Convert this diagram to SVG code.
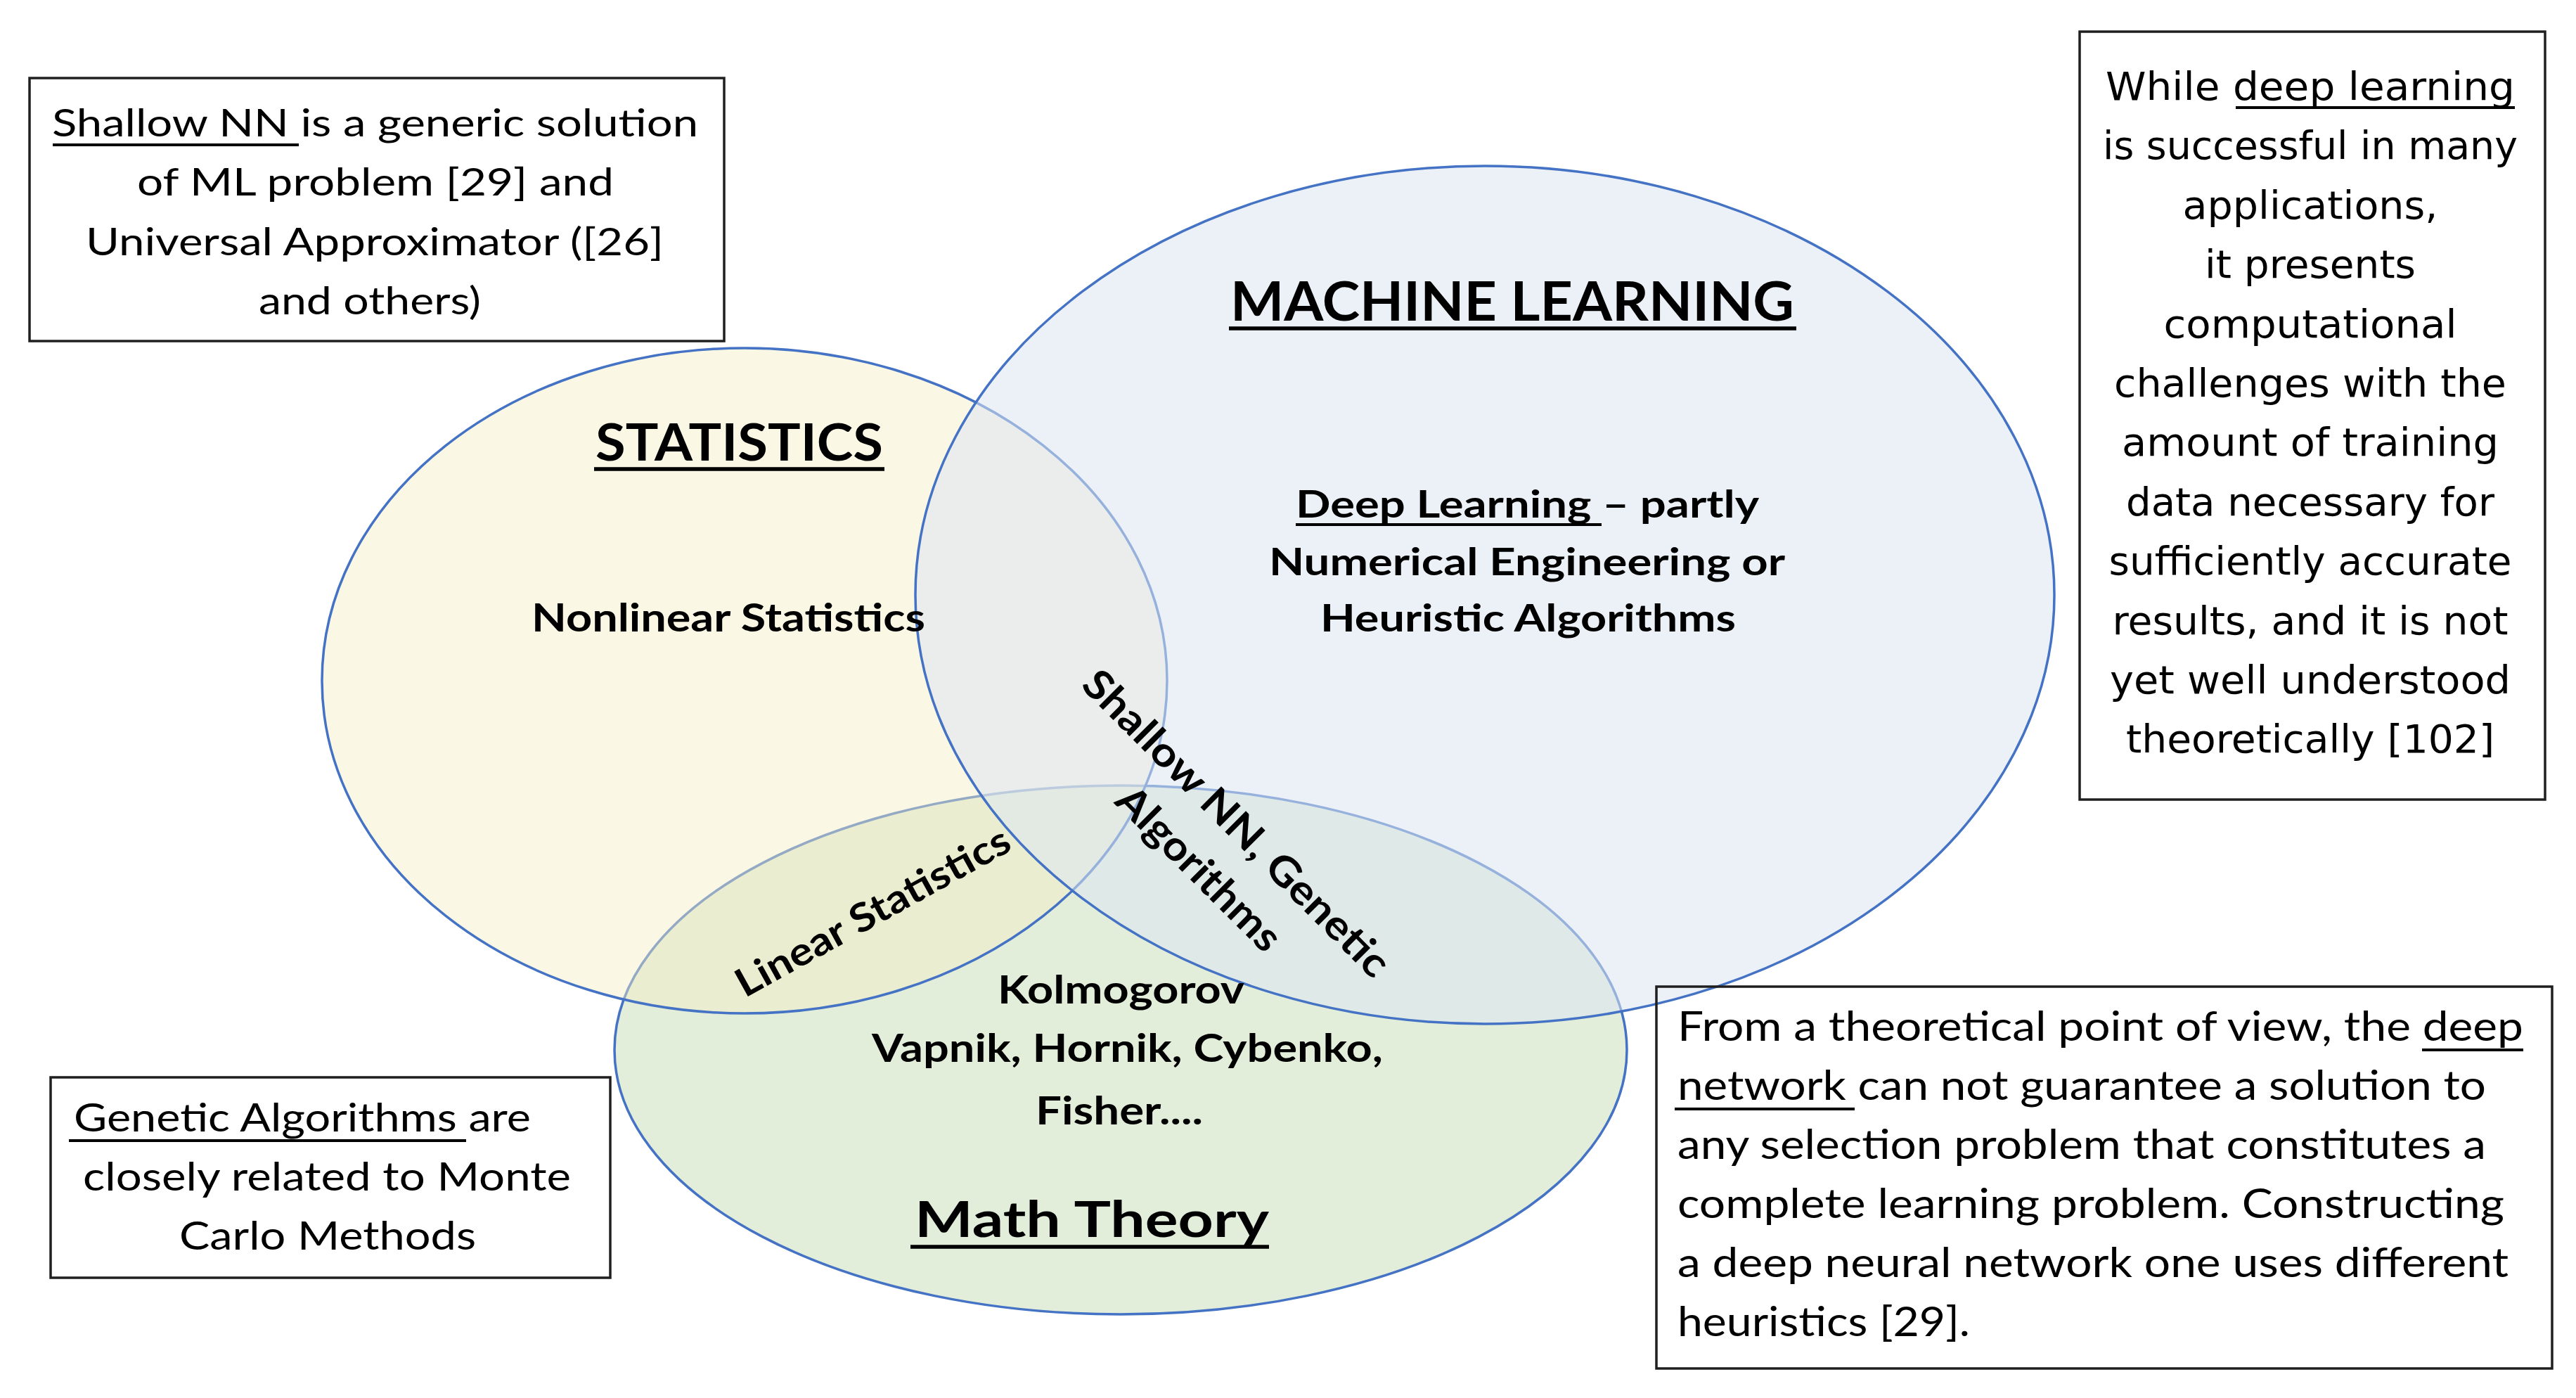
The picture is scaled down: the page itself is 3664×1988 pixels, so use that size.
<svg xmlns="http://www.w3.org/2000/svg" width="3664" height="1988" viewBox="0 0 3664 1988">
<style>
.t{font-family:Lato,"Liberation Sans",Arial,sans-serif;fill:#000}
.b{font-weight:700}
.v{font-family:"DejaVu Sans",Verdana,sans-serif;fill:#000}
.box{fill:none;stroke:#1f1f1f;stroke-width:3.5}
.ul{stroke:#000;stroke-width:4}
.ulb{stroke:#000;stroke-width:5.5}
.ell{stroke:#4472C4;stroke-width:3.5}
</style>
<rect width="3664" height="1988" fill="#fff"/>

<g id="math-theory">
<ellipse class="ell" cx="1594" cy="1493" rx="720" ry="376" fill="#C5DBB5" fill-opacity="0.5"/>
<text class="t b" x="1301" y="1759" font-size="71" textLength="504" lengthAdjust="spacingAndGlyphs">Math Theory</text>
<line class="ulb" x1="1295" y1="1773" x2="1805" y2="1773"/>
</g>

<g id="statistics">
<ellipse class="ell" cx="1059" cy="968" rx="601" ry="473" fill="#F4EEC4" fill-opacity="0.46"/>
<text class="t b" x="847" y="655" font-size="72" textLength="409" lengthAdjust="spacingAndGlyphs">STATISTICS</text>
<line class="ulb" x1="845" y1="667" x2="1258" y2="667"/>
</g>

<g id="machine-learning">
<ellipse class="ell" cx="2112" cy="846" rx="810" ry="610" fill="#DDE6F3" fill-opacity="0.55"/>
<text class="t b" x="1750" y="456" font-size="77" textLength="802" lengthAdjust="spacingAndGlyphs">MACHINE LEARNING</text>
<line class="ulb" x1="1748" y1="467" x2="2555" y2="467"/>
</g>

<g id="label-nonlinear-statistics">
<text class="t b" x="756" y="898" font-size="56" textLength="560" lengthAdjust="spacingAndGlyphs">Nonlinear Statistics</text>
</g>

<g id="label-deep-learning">
<text class="t b" x="1843" y="736" font-size="53" textLength="659" lengthAdjust="spacingAndGlyphs">Deep Learning – partly</text>
<line class="ul" x1="1843" y1="746" x2="2278" y2="746"/>
<text class="t b" x="1805" y="818" font-size="53" textLength="734" lengthAdjust="spacingAndGlyphs">Numerical Engineering or</text>
<text class="t b" x="1878" y="898" font-size="53" textLength="591" lengthAdjust="spacingAndGlyphs">Heuristic Algorithms</text>
</g>

<g id="label-math-names">
<text class="t b" x="1419" y="1427" font-size="56" textLength="351" lengthAdjust="spacingAndGlyphs">Kolmogorov</text>
<text class="t b" x="1240" y="1510" font-size="56" textLength="727" lengthAdjust="spacingAndGlyphs">Vapnik, Hornik, Cybenko,</text>
<text class="t b" x="1473" y="1599" font-size="56" textLength="238" lengthAdjust="spacingAndGlyphs">Fisher....</text>
</g>

<g id="label-linear-statistics" transform="translate(1241,1296) rotate(-29)">
<text class="t b" x="0" y="20" font-size="56" text-anchor="middle" textLength="437" lengthAdjust="spacingAndGlyphs">Linear Statistics</text>
</g>

<g id="label-shallow-nn" transform="translate(1731,1204) rotate(45)">
<text class="t b" x="-4" y="-23" font-size="58" text-anchor="middle" textLength="590" lengthAdjust="spacingAndGlyphs">Shallow NN, Genetic</text>
<text class="t b" x="4" y="60" font-size="58" text-anchor="middle" textLength="305" lengthAdjust="spacingAndGlyphs">Algorithms</text>
</g>

<g id="note-shallow-nn">
<rect class="box" x="42" y="111" width="988" height="374"/>
<text class="t" x="74" y="194" font-size="54" textLength="919" lengthAdjust="spacingAndGlyphs">Shallow NN is a generic solution</text>
<line class="ul" x1="75" y1="206" x2="425" y2="206"/>
<text class="t" x="195" y="278" font-size="54" textLength="678" lengthAdjust="spacingAndGlyphs">of ML problem [29] and</text>
<text class="t" x="122" y="363" font-size="54" textLength="822" lengthAdjust="spacingAndGlyphs">Universal Approximator ([26]</text>
<text class="t" x="368" y="447" font-size="54" textLength="316" lengthAdjust="spacingAndGlyphs">and others)</text>
</g>

<g id="note-deep-learning">
<rect class="box" x="2958" y="45" width="662" height="1092"/>
<g text-anchor="middle" font-size="56">
<text class="v" x="3286" y="142" textLength="582" lengthAdjust="spacingAndGlyphs">While deep learning</text>
<text class="v" x="3286" y="226" textLength="590" lengthAdjust="spacingAndGlyphs">is successful in many</text>
<text class="v" x="3286" y="311" textLength="363" lengthAdjust="spacingAndGlyphs">applications,</text>
<text class="v" x="3286" y="395" textLength="300" lengthAdjust="spacingAndGlyphs">it presents</text>
<text class="v" x="3286" y="480" textLength="417" lengthAdjust="spacingAndGlyphs">computational</text>
<text class="v" x="3286" y="564" textLength="558" lengthAdjust="spacingAndGlyphs">challenges with the</text>
<text class="v" x="3286" y="648" textLength="536" lengthAdjust="spacingAndGlyphs">amount of training</text>
<text class="v" x="3286" y="733" textLength="524" lengthAdjust="spacingAndGlyphs">data necessary for</text>
<text class="v" x="3286" y="817" textLength="573" lengthAdjust="spacingAndGlyphs">sufficiently accurate</text>
<text class="v" x="3286" y="902" textLength="563" lengthAdjust="spacingAndGlyphs">results, and it is not</text>
<text class="v" x="3286" y="986" textLength="570" lengthAdjust="spacingAndGlyphs">yet well understood</text>
<text class="v" x="3286" y="1070" textLength="524" lengthAdjust="spacingAndGlyphs">theoretically [102]</text>
</g>
<line class="ul" x1="3180" y1="153" x2="3577" y2="153"/>
</g>

<g id="note-genetic-algorithms">
<rect class="box" x="72" y="1532" width="796" height="285"/>
<text class="t" x="105" y="1609" font-size="57" textLength="650" lengthAdjust="spacingAndGlyphs">Genetic Algorithms are</text>
<line class="ul" x1="98" y1="1622" x2="663" y2="1622"/>
<text class="t" x="118" y="1693" font-size="57" textLength="694" lengthAdjust="spacingAndGlyphs">closely related to Monte</text>
<text class="t" x="255" y="1777" font-size="57" textLength="422" lengthAdjust="spacingAndGlyphs">Carlo Methods</text>
</g>

<g id="note-deep-network">
<rect class="box" x="2356" y="1403" width="1274" height="543"/>
<text class="t" x="2386" y="1480" font-size="58" textLength="1203" lengthAdjust="spacingAndGlyphs">From a theoretical point of view, the deep</text>
<line class="ul" x1="3445" y1="1493" x2="3589" y2="1493"/>
<text class="t" x="2386" y="1564" font-size="58" textLength="1150" lengthAdjust="spacingAndGlyphs">network can not guarantee a solution to</text>
<line class="ul" x1="2382" y1="1577" x2="2638" y2="1577"/>
<text class="t" x="2386" y="1648" font-size="58" textLength="1150" lengthAdjust="spacingAndGlyphs">any selection problem that constitutes a</text>
<text class="t" x="2386" y="1732" font-size="58" textLength="1176" lengthAdjust="spacingAndGlyphs">complete learning problem. Constructing</text>
<text class="t" x="2386" y="1816" font-size="58" textLength="1182" lengthAdjust="spacingAndGlyphs">a deep neural network one uses different</text>
<text class="t" x="2386" y="1900" font-size="58" textLength="416" lengthAdjust="spacingAndGlyphs">heuristics [29].</text>
</g>

<g id="connectors"></g>
</svg>
